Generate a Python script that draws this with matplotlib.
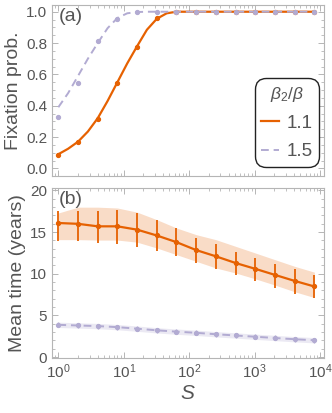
import numpy as np
import matplotlib
matplotlib.use("Agg")
import matplotlib.pyplot as plt

# S values (powers of two)
S = [1, 2, 4, 8, 16, 32, 64, 128, 256, 512, 1024, 2048, 4096, 8192]

# (a) fixation probability, simulated points
fix_11 = [0.085, 0.165, 0.315, 0.545, 0.775, 0.96, 1.0, 1.0, 1.0, 1.0, 1.0, 1.0, 1.0, 1.0]
fix_15 = [0.326, 0.545, 0.81, 0.951, 1.0, 1.0, 1.0, 1.0, 1.0, 1.0, 1.0, 1.0, 1.0, 1.0]

# (a) theory curves, read at half-octave steps
S_curve = [1, 1.41, 2, 2.83, 4, 5.66, 8, 11.3, 16, 22.6, 32, 45.3, 64, 128, 1024, 8192]
curve_11 = [0.09, 0.125, 0.17, 0.235, 0.32, 0.43, 0.55, 0.67, 0.78, 0.885, 0.955, 0.99, 1.0, 1.0, 1.0, 1.0]
curve_15 = [0.39, 0.48, 0.59, 0.70, 0.80, 0.895, 0.96, 0.99, 0.998, 1.0, 1.0, 1.0, 1.0, 1.0, 1.0, 1.0]

# (b) mean time (years)
time_11 = [16.1, 16.0, 15.7, 15.7, 15.3, 14.6, 13.8, 12.85, 12.1, 11.3, 10.6, 9.87, 9.15, 8.48]
err_11_hi = [17.5, 17.5, 17.5, 17.6, 17.3, 16.4, 15.5, 14.25, 13.55, 12.65, 11.95, 11.15, 10.55, 9.85]
err_11_lo = [13.95, 13.95, 13.65, 13.6, 13.25, 12.75, 12.15, 11.35, 10.6, 9.85, 9.15, 8.35, 7.55, 7.05]
band_11_hi = [17.3, 18.0, 18.0, 17.9, 17.4, 16.5, 15.5, 14.7, 14.1, 13.3, 12.5, 11.7, 10.9, 10.2]
band_11_lo = [14.1, 14.1, 14.05, 14.05, 13.8, 13.1, 12.3, 11.5, 10.7, 10.1, 9.4, 8.65, 7.85, 7.15]

time_15 = [3.88, 3.8, 3.73, 3.6, 3.42, 3.22, 3.06, 2.92, 2.75, 2.6, 2.45, 2.3, 2.15, 2.03]
err_15 = [0.3, 0.3, 0.3, 0.3, 0.3, 0.3, 0.3, 0.3, 0.3, 0.3, 0.3, 0.3, 0.3, 0.3]
band_15 = [0.32, 0.32, 0.32, 0.32, 0.32, 0.32, 0.32, 0.32, 0.32, 0.32, 0.32, 0.32, 0.32, 0.32]

orange = "#e66101"
lav = "#b2abd2"
txt = "#555555"
frame = "#b5b5b5"

plt.rcParams["font.family"] = ["Liberation Sans", "DejaVu Sans"]
plt.rcParams["mathtext.fontset"] = "custom"
plt.rcParams["mathtext.it"] = "Liberation Sans:italic"
plt.rcParams["mathtext.rm"] = "Liberation Sans"

fig = plt.figure(figsize=(3.32, 4.13), dpi=100)
ax1 = fig.add_axes([0.1566, 0.5746, 0.8193, 0.4133])
ax2 = fig.add_axes([0.1566, 0.1332, 0.8193, 0.4116])


def style(ax):
    ax.set_xscale("log")
    ax.set_xlim(0.80, 11500)
    for sp in ax.spines.values():
        sp.set_color(frame)
        sp.set_linewidth(0.8)
    ax.tick_params(which="both", direction="in", top=True, right=True,
                   color=frame, labelcolor=txt, labelsize=11)
    ax.tick_params(which="major", length=4, width=0.7)
    ax.tick_params(which="minor", length=2, width=0.6)


style(ax1)
style(ax2)

# panel (a)
ax1.plot(S_curve, curve_11, color=orange, lw=1.6, label="1.1")
ax1.plot(S_curve, curve_15, color=lav, lw=1.4, ls=(0, (4, 2.5)), label="1.5")
ax1.plot(S, fix_11, "o", color=orange, ms=2.8)
ax1.plot(S, fix_15, "o", color=lav, ms=2.8)
ax1.set_ylim(-0.047, 1.043)
ax1.set_yticks([0.0, 0.2, 0.4, 0.6, 0.8, 1.0])
ax1.set_yticks(np.arange(0, 1.01, 0.05), minor=True)
ax1.yaxis.set_major_formatter(matplotlib.ticker.FormatStrFormatter("%.1f"))
ax1.tick_params(axis="x", which="both", labelbottom=False)
ax1.set_ylabel("Fixation prob.", color=txt, fontsize=14, labelpad=3)
ax1.text(0.025, 0.985, "(a)", transform=ax1.transAxes, fontsize=14,
         color=txt, va="top", ha="left")

leg = ax1.legend(title=r"$\beta_2/\beta$", loc="upper left",
                 bbox_to_anchor=(0.745, 0.572), frameon=True, fancybox=True,
                 fontsize=13.5, title_fontsize=12.5, handlelength=0.95,
                 labelspacing=0.6, borderpad=0.35, handletextpad=0.4,
                 borderaxespad=0)
leg.get_frame().set_edgecolor("#222222")
leg.get_frame().set_linewidth(1.0)
leg.get_frame().set_alpha(1)
leg.get_frame().set_boxstyle("round", pad=0, rounding_size=0.6)
leg.get_title().set_color(txt)
for t in leg.get_texts():
    t.set_color(txt)

# panel (b)
ax2.fill_between(S, band_11_lo, band_11_hi, color=orange, alpha=0.22, lw=0)
ax2.fill_between(S, np.array(time_15) - band_15, np.array(time_15) + band_15,
                 color=lav, alpha=0.25, lw=0)
lo = np.array(time_11) - np.array(err_11_lo)
hi = np.array(err_11_hi) - np.array(time_11)
ax2.errorbar(S, time_11, yerr=[lo, hi], fmt="o", color=orange, ms=2.8,
             elinewidth=1.3, capsize=0)
ax2.plot(S, time_11, color=orange, lw=1.6)
ax2.errorbar(S, time_15, yerr=err_15, fmt="o", color=lav, ms=2.8,
             elinewidth=1.0, capsize=0)
ax2.plot(S, time_15, color=lav, lw=1.4, ls=(0, (4, 2.5)))
ax2.set_ylim(-0.1, 20.3)
ax2.set_yticks([0, 5, 10, 15, 20])
ax2.set_yticks(np.arange(0, 20.1, 1), minor=True)
ax2.set_ylabel("Mean time (years)", color=txt, fontsize=14, labelpad=3)
ax2.set_xlabel("$S$", color=txt, fontsize=15, labelpad=2)
ax2.text(0.025, 0.985, "(b)", transform=ax2.transAxes, fontsize=14,
         color=txt, va="top", ha="left")

fig.savefig("out.png", dpi=100)
